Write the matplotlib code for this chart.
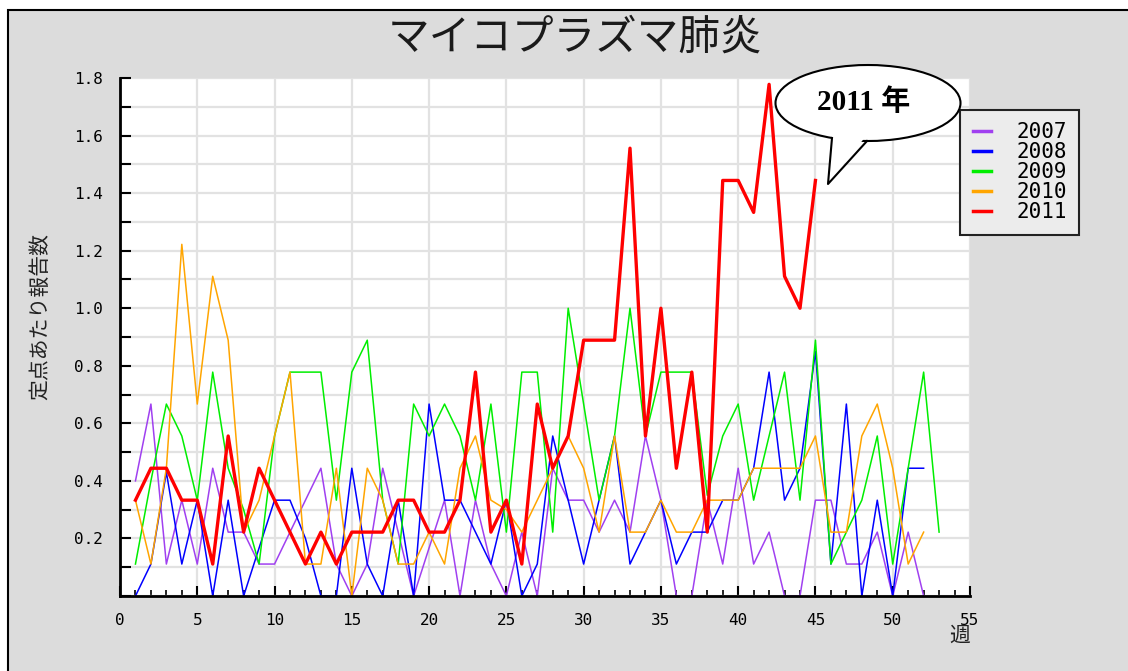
import matplotlib
matplotlib.use('Agg')
from matplotlib import pyplot as plt
from matplotlib.patches import Rectangle, Ellipse, Polygon
from matplotlib.lines import Line2D
from matplotlib.ticker import MultipleLocator, FixedLocator, FormatStrFormatter

# weekly reports per sentinel site
y2007 = [0.4, 0.667, 0.111, 0.333, 0.111, 0.444, 0.222, 0.222, 0.111, 0.111, 0.222, 0.333, 0.444,
         0.111, 0.0, 0.111, 0.444, 0.222, 0.0, 0.167, 0.333, 0.0, 0.333, 0.111, 0.0,
         0.222, 0.0, 0.444, 0.333, 0.333, 0.222, 0.333, 0.222, 0.556, 0.333, 0.0, 0.0, 0.333,
         0.111, 0.444, 0.111, 0.222, 0.0, 0.0, 0.333, 0.333, 0.111, 0.111, 0.222, 0.0, 0.222, 0.0]
y2008 = [0.0, 0.111, 0.43, 0.111, 0.333, 0.0, 0.333, 0.0, 0.167, 0.333, 0.333, 0.2, 0.0,
         0.0, 0.444, 0.111, 0.0, 0.333, 0.0, 0.667, 0.333, 0.333, 0.222, 0.111, 0.333,
         0.0, 0.111, 0.556, 0.333, 0.111, 0.333, 0.556, 0.111, 0.222, 0.333, 0.111, 0.222, 0.222,
         0.333, 0.333, 0.444, 0.778, 0.333, 0.444, 0.85, 0.111, 0.667, 0.0, 0.333, 0.0, 0.444, 0.444]
y2009 = [0.111, 0.4, 0.667, 0.556, 0.333, 0.778, 0.444, 0.3, 0.111, 0.556, 0.778, 0.778, 0.778,
         0.333, 0.778, 0.889, 0.333, 0.111, 0.667, 0.556, 0.667, 0.556, 0.333, 0.667, 0.222,
         0.778, 0.778, 0.222, 1.0, 0.667, 0.333, 0.556, 1.0, 0.556, 0.778, 0.778, 0.778, 0.35,
         0.556, 0.667, 0.333, 0.556, 0.778, 0.333, 0.889, 0.111, 0.222, 0.333, 0.556, 0.111, 0.444, 0.778, 0.222]
y2010 = [0.333, 0.111, 0.444, 1.222, 0.667, 1.111, 0.889, 0.222, 0.333, 0.556, 0.778, 0.111, 0.111,
         0.444, 0.0, 0.444, 0.333, 0.111, 0.111, 0.222, 0.111, 0.444, 0.556, 0.333, 0.3,
         0.222, 0.333, 0.444, 0.556, 0.444, 0.222, 0.556, 0.222, 0.222, 0.333, 0.222, 0.222, 0.333,
         0.333, 0.333, 0.444, 0.444, 0.444, 0.444, 0.556, 0.222, 0.222, 0.556, 0.667, 0.444, 0.111, 0.222]
y2011 = [0.333, 0.444, 0.444, 0.333, 0.333, 0.111, 0.556, 0.222, 0.444, 0.333,
         0.222, 0.111, 0.222, 0.111, 0.222, 0.222, 0.222, 0.333, 0.333, 0.222,
         0.222, 0.333, 0.778, 0.222, 0.333, 0.111, 0.667, 0.444, 0.556, 0.889,
         0.889, 0.889, 1.556, 0.556, 1.0, 0.444, 0.778, 0.222, 1.444, 1.444,
         1.333, 1.778, 1.111, 1.0, 1.444]

years = ['2007', '2008', '2009', '2010', '2011']
series = [y2007, y2008, y2009, y2010, y2011]
colors = ['#a040f0', '#0000ff', '#00ee00', '#ffa500', '#ff0000']
widths = [1.1, 1.1, 1.1, 1.1, 2.4]

W, H = 1128, 671
def fx(px):
    return px / W
def fy(py):
    return 1 - py / H

fig = plt.figure(figsize=(11.28, 6.71), dpi=100, facecolor='white')

# gray panel with a black border on the left and top
fig.add_artist(Rectangle((fx(8), -0.05), 1.2, fy(10) + 0.05, transform=fig.transFigure,
                         facecolor='#dcdcdc', edgecolor='black', linewidth=1.5, zorder=0))

ax = fig.add_axes([fx(120), fy(596), fx(970) - fx(120), fy(78) - fy(596)])
ax.set_facecolor('white')

for name, vals, c, lw in zip(years, series, colors, widths):
    weeks = list(range(1, len(vals) + 1))
    ax.plot(weeks, vals, color=c, linewidth=lw, label=name, zorder=3 if name == '2011' else 2)

ax.set_xlim(0, 55)
ax.set_ylim(0, 1.8)
ax.xaxis.set_major_locator(MultipleLocator(5))
ax.xaxis.set_minor_locator(MultipleLocator(1))
ax.yaxis.set_major_locator(FixedLocator([0.2, 0.4, 0.6, 0.8, 1.0, 1.2, 1.4, 1.6, 1.8]))
ax.yaxis.set_minor_locator(MultipleLocator(0.1))
ax.yaxis.set_major_formatter(FormatStrFormatter('%.1f'))
ax.grid(True, which='major', axis='x', color='#e2e2e2', linewidth=1.6)
ax.grid(True, which='both', axis='y', color='#e2e2e2', linewidth=1.6)
ax.set_axisbelow(True)

for s in ['top', 'right']:
    ax.spines[s].set_visible(False)
for s in ['left', 'bottom']:
    ax.spines[s].set_linewidth(2)
    ax.spines[s].set_color('black')

ax.tick_params(axis='x', which='major', direction='in', length=7, width=1.5, pad=12,
               labelsize=11.5, labelfontfamily='DejaVu Sans Mono')
ax.tick_params(axis='x', which='minor', direction='in', length=4, width=1.2)
ax.tick_params(axis='y', which='both', direction='in', length=8, width=1.5, pad=12,
               labelsize=11.5, labelfontfamily='DejaVu Sans Mono')

fig.text(fx(575), fy(38), 'マイコプラズマ肺炎', ha='center', va='center', fontsize=30,
         family=['Noto Sans CJK JP', 'DejaVu Sans'], color='#1a1a1a')
fig.text(fx(40), fy(317), '定点あたり報告数', ha='center', va='center', rotation=90, fontsize=15,
         family=['Noto Sans CJK JP', 'DejaVu Sans'], color='#222222')
fig.text(fx(960), fy(636), '週', ha='center', va='center', fontsize=15,
         family=['Noto Sans CJK JP', 'DejaVu Sans'], color='#222222')

leg = fig.legend(loc='upper left', bbox_to_anchor=(fx(960), fy(110)), borderaxespad=0,
                 fancybox=False, framealpha=1, facecolor='#ececec', edgecolor='#222222',
                 prop={'family': 'DejaVu Sans Mono', 'size': 15}, handlelength=0.9,
                 handletextpad=1.2, labelspacing=0.0, borderpad=0.6)
leg.get_frame().set_linewidth(1.5)
for h in leg.get_lines():
    h.set_linewidth(2.5)

# speech-bubble callout
tail_fill = Polygon([(fx(833), fy(132)), (fx(828), fy(184)), (fx(866), fy(136))],
                    closed=True, transform=fig.transFigure, facecolor='white', edgecolor='none', zorder=11)
bubble = Ellipse((fx(868), fy(103)), fx(185), 76 / H, transform=fig.transFigure,
                 facecolor='white', edgecolor='black', linewidth=1.5, zorder=10)
fig.add_artist(bubble)
fig.add_artist(tail_fill)
fig.add_artist(Line2D([fx(832), fx(828), fx(867)], [fy(138), fy(184), fy(141)],
                      transform=fig.transFigure, color='black', linewidth=1.5, zorder=12))
fig.text(fx(864), fy(102), '2011 年', ha='center', va='center', fontsize=21, weight='bold',
         family=['Liberation Serif', 'Noto Sans CJK JP'], zorder=13)

fig.savefig('out.png', dpi=100)
